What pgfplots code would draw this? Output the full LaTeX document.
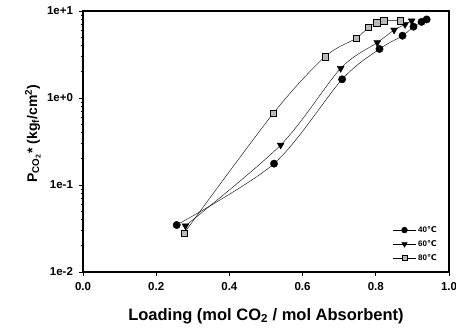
\documentclass[border=0pt]{standalone}
\usepackage{pgfplots}
\pgfplotsset{compat=1.18}
\usepackage{fontspec}
\setmainfont{Liberation Sans}
\newfontfamily\dejavu{DejaVu Sans}
\begin{document}
\begin{tikzpicture}
\begin{axis}[
  at={(0,0)}, anchor=south west,
  scale only axis,
  width=366pt, height=261pt,
  xmin=0, xmax=1, ymode=log, ymin=0.01, ymax=10,
  xtick={0,0.2,0.4,0.6,0.8,1.0},
  xticklabels={0.0,0.2,0.4,0.6,0.8,1.0},
  ytick={0.01,0.1,1,10},
  yticklabels={1e-2,1e-1,1e+0,1e+1},
  tick align=outside,
  tick pos=left,
  major tick length=4pt,
  minor tick length=2pt,
  minor x tick num=0,
  axis line style={line width=1.1pt},
  every tick/.style={black, line width=0.8pt},
  tick label style={font=\fontsize{11.5}{12}\selectfont\bfseries},
  yticklabel style={xshift=-2.5pt},
  xticklabel style={yshift=-3pt},
  /pgf/number format/assume math mode=true,
  xlabel={\bfseries Loading (mol CO$_{\mathbf 2}$ / mol Absorbent)},
  ylabel={\bfseries P$_{\mathrm{\bf CO}_{\mathbf 2}}$* (kg$_{\mathbf f}$/cm$^{\mathbf 2}$)},
  xlabel style={font=\fontsize{16.5}{18}\selectfont, at={(axis description cs:0.5,-0.168)}, anchor=center},
  ylabel style={font=\fontsize{14}{16}\selectfont, at={(axis description cs:-0.137,0.53)}, anchor=center},
  legend style={draw=none, fill=none, at={(1,0)}, xshift=-9pt, yshift=7pt, anchor=south east,
    font=\fontsize{8}{9}\selectfont\bfseries, row sep=2.5pt, inner sep=1pt},
  legend cell align=left,
  legend image code/.code={\draw[mark repeat=2,mark phase=2] plot coordinates {(0pt,0pt)(11.5pt,0pt)(23pt,0pt)};},
  legend image post style={every mark/.append style={scale=0.8}},
]
\addplot[black, thin, smooth, mark=*, mark options={fill=black}, mark size=3.7pt]
coordinates {(0.256,0.0347)(0.522,0.176)(0.708,1.64)(0.81,3.66)(0.873,5.2)(0.903,6.6)(0.925,7.5)(0.939,8.0)};
\addlegendentry{40{\dejavu ℃}}
\addplot[black, thin, smooth, mark=triangle*, mark options={fill=black, rotate=180}, mark size=4pt]
coordinates {(0.28,0.034)(0.54,0.288)(0.704,2.19)(0.804,4.33)(0.85,6.05)(0.88,7.0)(0.898,7.7)};
\addlegendentry{60{\dejavu ℃}}
\addplot[black, thin, smooth, mark=square*, mark options={fill=gray!55, draw=black}, mark size=3.2pt]
coordinates {(0.276,0.0279)(0.52,0.667)(0.661,2.98)(0.746,4.85)(0.78,6.5)(0.802,7.35)(0.822,7.74)(0.866,7.74)};
\addlegendentry{80{\dejavu ℃}}
\end{axis}
\pgfresetboundingbox
\useasboundingbox (-83pt,-57pt) rectangle (373pt,272pt);
\end{tikzpicture}
\end{document}
